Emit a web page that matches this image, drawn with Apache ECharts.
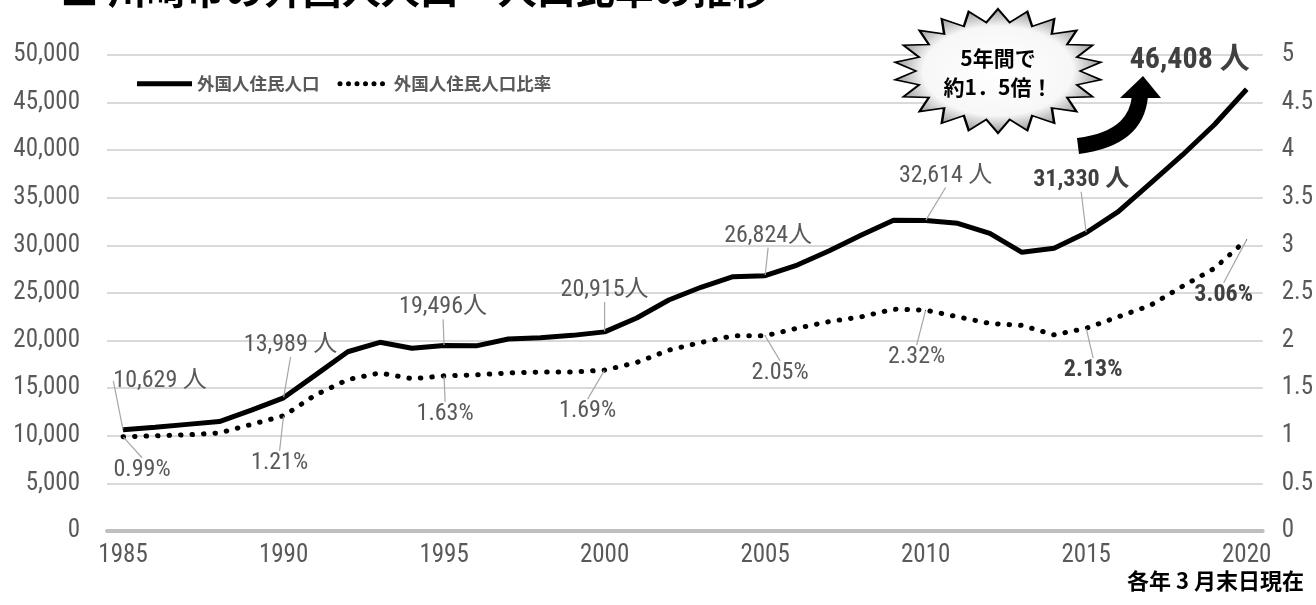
<!DOCTYPE html>
<html>
<head>
<meta charset="utf-8">
<script src="https://cdn.jsdelivr.net/npm/echarts@6/dist/echarts.min.js"></script>
<style>
  html, body { margin: 0; padding: 0; background: #fff; }
  #chart { width: 1316px; height: 605px; }
</style>
</head>
<body>
<div id="chart"></div>
<script>
// 各年3月末日現在
const years = ['1985', '1986', '1987', '1988', '1989', '1990', '1991', '1992', '1993', '1994',
  '1995', '1996', '1997', '1998', '1999', '2000', '2001', '2002', '2003', '2004',
  '2005', '2006', '2007', '2008', '2009', '2010', '2011', '2012', '2013', '2014',
  '2015', '2016', '2017', '2018', '2019', '2020']
const population = [10629, 10900, 11200, 11500, 12700, 13989, 16400, 18830, 19820, 19190,
  19496, 19450, 20170, 20300, 20550, 20915, 22370, 24260, 25600, 26710,
  26824, 27940, 29440, 31090, 32650, 32614, 32320, 31270, 29270, 29690,
  31330, 33540, 36520, 39500, 42700, 46408]
const ratio = [0.99, 1.00, 1.01, 1.03, 1.12, 1.21, 1.43, 1.59, 1.66, 1.60,
  1.63, 1.64, 1.66, 1.67, 1.67, 1.69, 1.77, 1.90, 1.98, 2.05,
  2.05, 2.13, 2.20, 2.25, 2.33, 2.32, 2.25, 2.18, 2.16, 2.06,
  2.13, 2.25, 2.37, 2.57, 2.76, 3.06]
const popLabels = { 0: '10,629 人', 5: '13,989 人', 10: '19,496人', 15: '20,915人', 20: '26,824人', 25: '32,614 人', 30: '31,330 人', 35: '46,408 人' }
const ratioLabels = { 0: '0.99%', 5: '1.21%', 10: '1.63%', 15: '1.69%', 20: '2.05%', 25: '2.32%', 30: '2.13%', 35: '3.06%' }
const leftTicks = [0, 5000, 10000, 15000, 20000, 25000, 30000, 35000, 40000, 45000, 50000]
const rightTicks = [0, 0.5, 1, 1.5, 2, 2.5, 3, 3.5, 4, 4.5, 5]

// ラベルの位置 (点からのずれ)
const popShift = { 0: [37, -49], 5: [7, -53], 10: [-1, -38], 15: [0, -42], 20: [3, -40], 25: [20, -45], 30: [-5, -53], 35: [-57, -29] }
const ratioShift = { 0: [19, 33], 5: [-4, 47], 10: [1, 38], 15: [-17, 41], 20: [15, 37], 25: [-9, 47], 30: [7, 42], 35: [-23, 55] }
const boldPop = [30, 35]
const boldRatio = [30, 35]

const NUM_FONT = '"Liberation Sans Narrow", "Roboto Condensed", Roboto, "Noto Sans CJK JP", sans-serif'
const JP_FONT = '"Noto Sans CJK JP", sans-serif'

// 凡例アイコン
const SOLID_ICON = 'path://M0,0L55,0L55,5L0,5Z'
let DOT_ICON = 'path://'
for (let i = 0; i < 6; i++) {
  const x = i * 8.5
  DOT_ICON += 'M' + x + ',2.5a2.5,2.5 0 1,0 5,0a2.5,2.5 0 1,0 -5,0Z'
}

function buildData(values, labels, bolds) {
  return values.map((v, i) => {
    if (labels[i] === undefined) return v
    const big = i === 35 && labels === popLabels
    return {
      value: v,
      symbol: 'circle',
      symbolSize: 1,
      label: {
        show: true,
        formatter: labels[i],
        fontSize: big ? 30 : 24,
        fontWeight: bolds.indexOf(i) >= 0 ? 'bold' : 'normal',
        color: bolds.indexOf(i) >= 0 ? '#404040' : '#595959'
      },
      labelLine: { show: !big }
    }
  })
}

function shiftLayout(shifts) {
  return function (params) {
    const s = shifts[params.dataIndex]
    if (!s) return {}
    const r = params.labelRect
    return {
      x: params.rect.x + params.rect.width / 2 + s[0] - r.width / 2,
      y: params.rect.y + params.rect.height / 2 + s[1] - r.height / 2,
      align: 'left',
      verticalAlign: 'top'
    }
  }
}

// 吹き出し (星形, 円で作って横に伸ばす)
function starPoints(n, r1, r2) {
  const pts = []
  for (let i = 0; i < n * 2; i++) {
    const a = Math.PI * i / n - Math.PI / 2
    const r = i % 2 === 0 ? r1 : r2
    pts.push([Math.cos(a) * r, Math.sin(a) * r])
  }
  return pts
}

const chart = echarts.init(document.getElementById('chart'))

chart.setOption({
  animation: false,
  backgroundColor: '#fff',
  grid: { left: 107, right: 52, top: 55, bottom: 74 },
  legend: {
    left: 132,
    top: 70,
    itemWidth: 55,
    itemHeight: 5,
    itemGap: 18,
    textStyle: { fontFamily: JP_FONT, fontSize: 17.5, fontWeight: 'bold', color: '#595959' },
    data: [
      { name: '外国人住民人口', icon: SOLID_ICON },
      { name: '外国人住民人口比率', icon: DOT_ICON }
    ]
  },
  xAxis: {
    type: 'category',
    data: years,
    boundaryGap: true,
    axisLine: { lineStyle: { color: '#bfbfbf', width: 4 } },
    axisTick: { show: false },
    axisLabel: {
      interval: 4,
      margin: 12,
      fontFamily: NUM_FONT,
      fontSize: 25,
      color: '#595959'
    }
  },
  yAxis: [
    {
      type: 'value',
      min: leftTicks[0],
      max: leftTicks[leftTicks.length - 1],
      interval: leftTicks[1] - leftTicks[0],
      axisLine: { show: false },
      axisTick: { show: false },
      axisLabel: {
        margin: 27,
        fontFamily: NUM_FONT,
        fontSize: 25,
        color: '#595959',
        formatter: v => v.toLocaleString('en-US')
      },
      splitLine: { lineStyle: { color: '#d9d9d9', width: 2 } }
    },
    {
      type: 'value',
      min: rightTicks[0],
      max: rightTicks[rightTicks.length - 1],
      interval: rightTicks[1] - rightTicks[0],
      axisLine: { show: false },
      axisTick: { show: false },
      axisLabel: {
        margin: 19,
        fontFamily: NUM_FONT,
        fontSize: 25,
        color: '#595959'
      },
      splitLine: { show: false }
    }
  ],
  series: [
    {
      name: '外国人住民人口',
      type: 'line',
      yAxisIndex: 0,
      data: buildData(population, popLabels, boldPop),
      symbol: 'none',
      itemStyle: { color: '#000' },
      lineStyle: { color: '#000', width: 5 },
      label: { fontFamily: NUM_FONT, position: 'inside' },
      labelLine: { show: true, lineStyle: { color: '#a6a6a6', width: 1.2 } },
      labelLayout: shiftLayout(popShift),
      z: 3
    },
    {
      name: '外国人住民人口比率',
      type: 'line',
      yAxisIndex: 1,
      data: buildData(ratio, ratioLabels, boldRatio),
      symbol: 'none',
      itemStyle: { color: '#000' },
      lineStyle: { color: '#000', width: 5, type: [0.5, 11], cap: 'round' },
      label: { fontFamily: NUM_FONT, position: 'inside' },
      labelLine: { show: true, lineStyle: { color: '#a6a6a6', width: 1.2 } },
      labelLayout: shiftLayout(ratioShift),
      z: 3
    }
  ],
  graphic: [
    {
      type: 'text',
      left: 60,
      top: -30,
      style: { text: '■ 川崎市の外国人人口・人口比率の推移', font: 'bold 39px "Noto Sans CJK JP"', fill: '#000' }
    },
    {
      type: 'polygon',
      x: 998,
      y: 71,
      scaleX: 104 / 62,
      shape: { points: starPoints(22, 62, 49) },
      style: {
        stroke: '#000',
        lineWidth: 1.5,
        strokeNoScale: true,
        fill: new echarts.graphic.RadialGradient(0.5, 0.5, 0.5, [
          { offset: 0, color: '#ffffff' },
          { offset: 0.72, color: '#f7f7f7' },
          { offset: 1, color: '#9a9a9a' }
        ])
      },
      z: 10
    },
    {
      type: 'text',
      x: 998,
      y: 73,
      style: {
        text: '5年間で\n約1．5倍！',
        font: 'bold 21px "Noto Sans CJK JP"',
        fill: '#000',
        align: 'center',
        verticalAlign: 'middle',
        lineHeight: 29
      },
      z: 11
    },
    {
      type: 'bezierCurve',
      shape: { x1: 1078, y1: 146, x2: 1140, y2: 96, cpx1: 1125, cpy1: 140, cpx2: 1138, cpy2: 118 },
      style: { stroke: '#000', lineWidth: 16, fill: null },
      z: 10
    },
    {
      type: 'polygon',
      shape: { points: [[1120, 98], [1161, 98], [1143, 76]] },
      style: { fill: '#000' },
      z: 10
    },
    {
      type: 'text',
      right: 12,
      top: 570,
      style: { text: '各年 3 月末日現在', font: 'bold 22px "Noto Sans CJK JP"', fill: '#000' }
    }
  ]
})
</script>
</body>
</html>
